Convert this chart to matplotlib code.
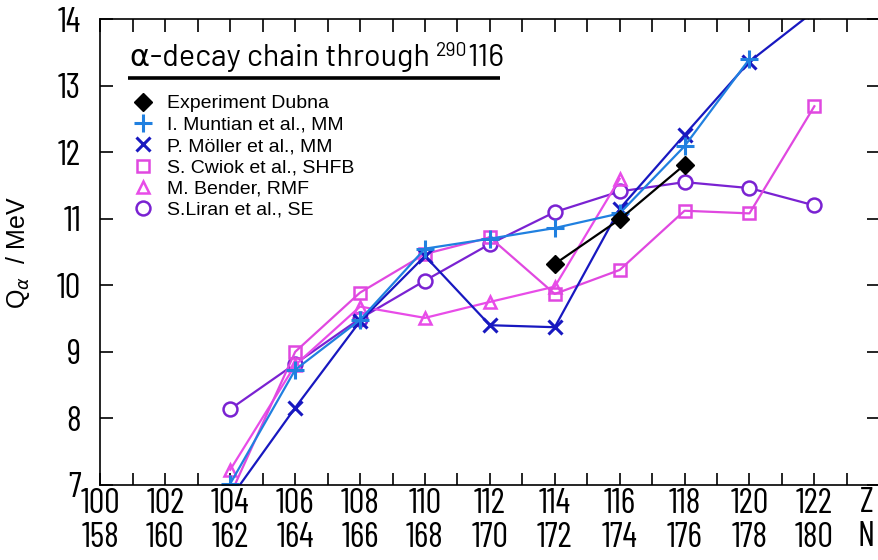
import matplotlib
matplotlib.use("Agg")
import matplotlib.pyplot as plt
from matplotlib.ticker import MultipleLocator

# proton number Z of the parent nucleus; neutron number N = Z + 58 along the chain
z_ticks = list(range(100, 124))
z_labels = [str(z) if z % 2 == 0 else "" for z in z_ticks]
n_labels = [str(z + 58) if z % 2 == 0 else "" for z in z_ticks]

dubna_z = [114, 116, 118]
dubna_q = [10.32, 10.99, 11.81]

muntian_z = [104, 106, 108, 110, 112, 114, 116, 118, 120]
muntian_q = [7.02, 8.73, 9.48, 10.55, 10.70, 10.86, 11.08, 12.09, 13.40]

moller_z = [104, 106, 108, 110, 112, 114, 116, 118, 120, 122]
moller_q = [6.80, 8.16, 9.46, 10.44, 9.40, 9.37, 11.15, 12.26, 13.36, 14.12]

cwiok_z = [104, 106, 108, 110, 112, 114, 116, 118, 120, 122]
cwiok_q = [6.85, 9.00, 9.89, 10.47, 10.72, 9.87, 10.23, 11.12, 11.08, 12.69]

bender_z = [104, 106, 108, 110, 112, 114, 116]
bender_q = [7.23, 8.80, 9.68, 9.51, 9.75, 9.98, 11.60]

liran_z = [104, 106, 108, 110, 112, 114, 116, 118, 120, 122]
liran_q = [8.14, 8.82, 9.50, 10.07, 10.62, 11.10, 11.41, 11.55, 11.46, 11.20]

# narrow DIN-like face for the axis numbers, wider one for the heading
din_narrow = dict(family=["Barlow Condensed", "DejaVu Sans"], stretch="condensed",
                  weight="normal")
din_wide = dict(family=["Barlow", "DejaVu Sans"])
arial = ["Liberation Sans", "DejaVu Sans"]

fig = plt.figure(figsize=(8.79, 5.6), dpi=100)
ax = fig.add_axes([0.1143, 0.134, 0.886, 0.832])

lw = 1.6
ms = 9
ax.plot(liran_z, liran_q, color="#7a22d2", lw=lw, marker="o", ms=ms + 1,
        mfc="white", mew=1.8, label="S.Liran et al., SE")
ax.plot(bender_z, bender_q, color="#e84ce8", lw=lw, marker="^", ms=ms,
        mfc="none", mew=1.8, label="M. Bender, RMF")
ax.plot(cwiok_z, cwiok_q, color="#e048e0", lw=lw, marker="s", ms=ms,
        mfc="none", mew=1.8, label="S. Cwiok et al., SHFB")
ax.plot(moller_z, moller_q, color="#1818c0", lw=lw, marker="x", ms=ms + 1,
        mew=2.2, label="P. Möller et al., MM")
ax.plot(muntian_z, muntian_q, color="#2080e0", lw=lw, marker="+", ms=ms + 4,
        mew=2.2, label="I. Muntian et al., MM")
ax.plot(dubna_z, dubna_q, color="black", lw=lw, marker="D", ms=ms,
        label="Experiment Dubna")

ax.set_xlim(100, 124)
ax.set_ylim(7, 14)
ax.set_xticks(z_ticks)
ax.set_xticklabels([a + "\n" + b for a, b in zip(z_labels, n_labels)])
ax.yaxis.set_major_locator(MultipleLocator(1))
ax.tick_params(axis="both", direction="in", length=9, width=1.2,
               top=True, right=True, labelsize=25)
ax.tick_params(axis="x", pad=2)
ax.tick_params(axis="y", pad=14)
for lbl in ax.get_xticklabels() + ax.get_yticklabels():
    lbl.set_family(din_narrow["family"])
    lbl.set_stretch(din_narrow["stretch"])
    lbl.set_weight(din_narrow["weight"])
for lbl in ax.get_xticklabels():
    lbl.set_linespacing(1.1)
ax.spines["right"].set_visible(False)
for s in ["left", "bottom", "top"]:
    ax.spines[s].set_linewidth(1.2)

# axis names for the two label rows
ax.text(123.6, -0.004, "Z\nN", transform=ax.get_xaxis_transform(),
        ha="center", va="top", fontsize=25, linespacing=1.1, **din_narrow)

ax.set_ylabel(r"Q$_\alpha$  / MeV", fontsize=18, family=arial)
ax.yaxis.set_label_coords(-0.088, 0.5)

# heading with the mass number raised in front of 116
head = ax.text(0.038, 0.9, "α-decay chain through ", transform=ax.transAxes,
               fontsize=22, ha="left", va="baseline", **din_wide)
sup = ax.annotate("290", xy=(1, 0.42), xycoords=head, fontsize=14,
                  ha="left", va="bottom", **din_wide)
ax.annotate("116", xy=(1, 0), xycoords=(sup, head), fontsize=22,
            ha="left", va="bottom", **din_wide)
ax.plot([0.0353, 0.513], [0.874, 0.874], transform=ax.transAxes,
        color="black", lw=2.6, solid_capstyle="butt")

handles, labels = ax.get_legend_handles_labels()
leg = ax.legend(handles[::-1], labels[::-1], loc="upper left",
                bbox_to_anchor=(0.022, 0.875), frameon=False,
                handlelength=0.8, handletextpad=0.86, labelspacing=0.19,
                prop={"family": arial, "size": 14})
for h in leg.legend_handles:
    h.set_linestyle("none")

fig.savefig("out.png", dpi=100)
